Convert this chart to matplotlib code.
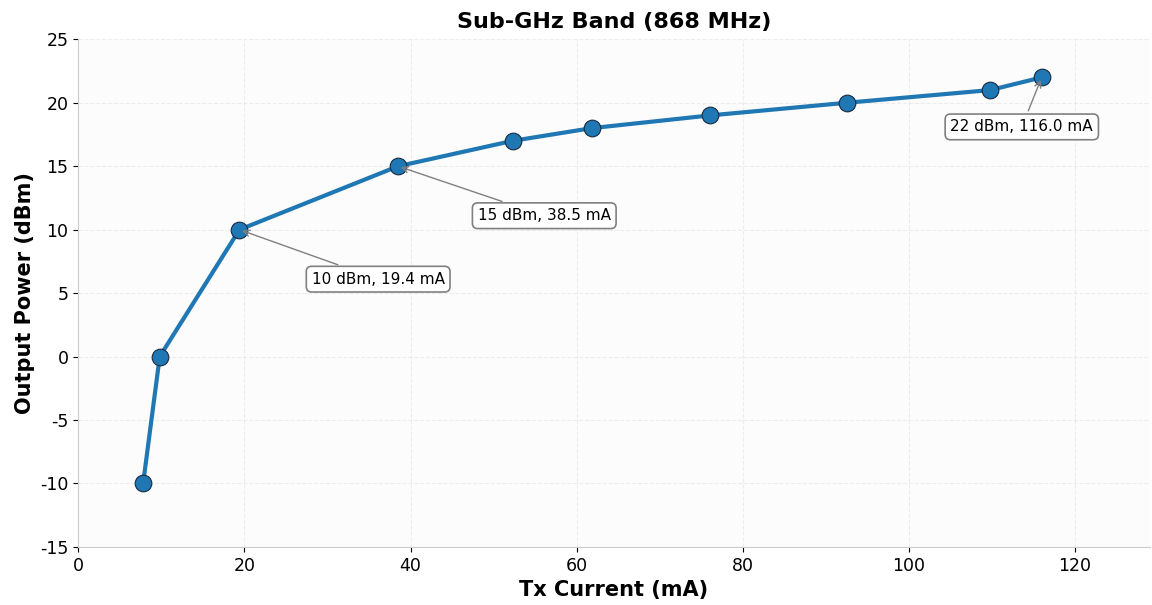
import matplotlib
matplotlib.use("Agg")
from matplotlib import pyplot as plt

plt.rcParams['axes.unicode_minus'] = False

# Tx current (mA) vs output power (dBm), 868 MHz
current = [7.8, 9.8, 19.4, 38.5, 52.3, 61.8, 76.0, 92.5, 109.8, 116.0]
power = [-10, 0, 10, 15, 17, 18, 19, 20, 21, 22]

# which points get a label
labelled = [2, 3, 9]

fig, ax = plt.subplots(figsize=(11.52, 6.05), dpi=100)
ax.set_facecolor('#fcfcfc')

ax.plot(current, power, color='#1f77b4', linewidth=3, marker='o', markersize=12,
        markeredgecolor='#1a2a40', markeredgewidth=0.8, zorder=3)

offsets = {2: (16.7, -3.9), 3: (17.6, -3.9), 9: (-2.4, -3.9)}
for i in labelled:
    dx, dy = offsets[i]
    ax.annotate(f"{power[i]} dBm, {current[i]:.1f} mA",
                xy=(current[i], power[i]), xytext=(current[i] + dx, power[i] + dy),
                ha='center', va='center', fontsize=11,
                bbox=dict(boxstyle='round,pad=0.35', fc='white', ec='gray', lw=1.2),
                arrowprops=dict(arrowstyle='->', color='gray', lw=1))

ax.set_xlim(0, 129)
ax.set_ylim(-15, 25)
ax.set_yticks(range(-15, 26, 5))
ax.tick_params(labelsize=12.5)
ax.grid(True, linestyle='--', alpha=0.5, color='#dddddd')
for s in ['top', 'right']:
    ax.spines[s].set_visible(False)
for s in ['left', 'bottom']:
    ax.spines[s].set_color('#cccccc')

ax.set_xlabel("Tx Current (mA)", fontsize=15, fontweight='bold')
ax.set_ylabel("Output Power (dBm)", fontsize=15, fontweight='bold')
ax.set_title("Sub-GHz Band (868 MHz)", fontsize=16, fontweight='bold', pad=8)

plt.subplots_adjust(left=0.068, right=0.998, top=0.935, bottom=0.096)
plt.savefig("out.png")
